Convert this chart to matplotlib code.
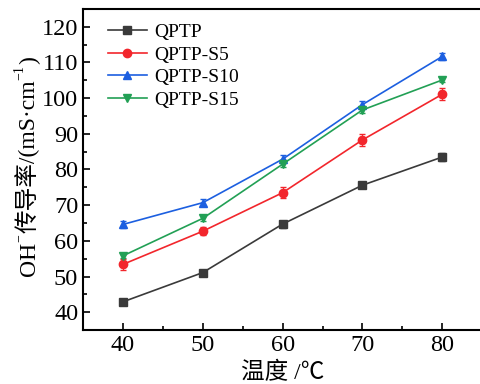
import matplotlib
matplotlib.use('Agg')
import matplotlib.pyplot as plt
from matplotlib.ticker import MultipleLocator
from matplotlib.transforms import IdentityTransform

plt.rcParams['font.family'] = ['Liberation Serif', 'Noto Sans CJK SC', 'DejaVu Sans']

temps = [40, 50, 60, 70, 80]
qptp = [42.9, 51.1, 64.7, 75.6, 83.5]
qptp_err = [0.8, 0.8, 1.0, 0.7, 1.0]
s5 = [53.4, 62.7, 73.5, 88.3, 101.1]
s5_err = [1.5, 1.2, 1.6, 1.7, 1.7]
s10 = [64.6, 70.7, 82.9, 98.2, 111.7]
s10_err = [1.1, 1.0, 1.1, 0.9, 1.1]
s15 = [55.8, 66.3, 81.5, 96.7, 105.1]
s15_err = [0.6, 0.7, 0.8, 0.8, 0.7]

labels = ['QPTP', 'QPTP-S5', 'QPTP-S10', 'QPTP-S15']
series = [qptp, s5, s10, s15]
errors = [qptp_err, s5_err, s10_err, s15_err]
colors = ['#3a3a3a', '#f2262c', '#1c5fe0', '#22a055']
markers = ['s', 'o', '^', 'v']

# y label pieces: (text, is superscript)
ylabel_parts = [('OH', False), ('−', True), ('传导率/(mS·cm', False), ('−1', True), (')', False)]

fig = plt.figure(figsize=(4.81, 3.84), dpi=100)
ax = fig.add_axes([0.1726, 0.1406, 0.83, 0.836])

handles = []
for y, e, c, m, lab in zip(series, errors, colors, markers, labels):
    ax.errorbar(temps, y, yerr=e, color=c, fmt='none', capsize=2.5, elinewidth=0.8)
    h, = ax.plot(temps, y, color=c, marker=m, markersize=6, lw=1.2, label=lab)
    handles.append(h)

ax.set_xlim(35, 85)
ax.set_ylim(35, 125)
ax.xaxis.set_major_locator(MultipleLocator(10))
ax.xaxis.set_minor_locator(MultipleLocator(5))
ax.yaxis.set_major_locator(MultipleLocator(10))
ax.yaxis.set_minor_locator(MultipleLocator(5))
ax.tick_params(which='both', direction='in', labelsize=17.5, width=1.2)
ax.tick_params(which='major', length=5)
ax.tick_params(which='minor', length=3)
for s in ax.spines.values():
    s.set_linewidth(1.5)

ax.set_yticks(range(40, 121, 10))
ax.set_xlabel('温度 /℃', fontsize=17, labelpad=4)

# rotated y label built from pieces so the superscripts are small and raised
renderer = fig.canvas.get_renderer()
texts = []
for txt, sup in ylabel_parts:
    t = fig.text(0, 0, txt, rotation=90, rotation_mode='anchor', ha='left',
                 va='baseline', fontsize=10 if sup else 17,
                 transform=IdentityTransform())
    texts.append((t, sup))
lengths = [t.get_window_extent(renderer).height for t, _ in texts]
base_x = 35
ypos = 384 - 167 - sum(lengths) / 2
for (t, sup), L in zip(texts, lengths):
    t.set_position((base_x - (12 if sup else 0), ypos))
    ypos += L + (1 if sup else 0)

ax.legend(handles=handles, loc='upper left', fontsize=14, frameon=False,
          handlelength=2.0, labelspacing=0.25, bbox_to_anchor=(0.043, 0.979),
          borderaxespad=0.0, handletextpad=0.4)

fig.savefig('out.png', dpi=100)
